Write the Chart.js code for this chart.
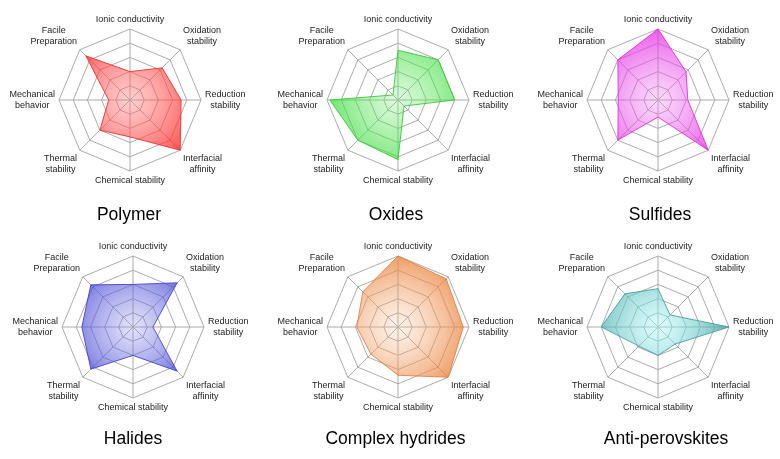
<!DOCTYPE html>
<html><head><meta charset="utf-8">
<script src="https://cdn.jsdelivr.net/npm/chart.js@4/dist/chart.umd.min.js"></script>
<style>
html,body{margin:0;padding:0;background:#fff;overflow:hidden;width:780px;height:459px;position:relative;}
canvas{position:absolute;}
</style></head><body>
<script>
// ---- data ----
const categories = ['Ionic conductivity', ['Oxidation','stability'], ['Reduction','stability'], ['Interfacial','affinity'], 'Chemical stability', ['Thermal','stability'], ['Mechanical','behavior'], ['Facile','Preparation']];
const materials = ['Polymer', 'Oxides', 'Sulfides', 'Halides', 'Complex hydrides', 'Anti-perovskites'];
const polymer         = [2.0, 3.2, 3.6, 5.0, 2.6, 3.0, 1.5, 4.4];
const oxides          = [3.5, 4.0, 4.0, 0.6, 4.2, 4.0, 4.8, 0.5];
const sulfides        = [5.0, 2.8, 2.1, 5.0, 1.2, 4.0, 2.8, 4.0];
const halides         = [3.0, 4.4, 1.4, 4.4, 2.0, 4.2, 3.6, 4.2];
const complexHydrides = [5.0, 4.8, 4.6, 5.0, 3.4, 2.7, 2.9, 3.5];
const antiPerovskites = [2.7, 1.2, 5.0, 1.7, 2.0, 1.9, 4.0, 3.3];
const tickMin = 0, tickMax = 5, tickStep = 1;

const seriesValues = [polymer, oxides, sulfides, halides, complexHydrides, antiPerovskites];

// ---- layout & style ----
const centers = [[130,100],[398,100],[658,100],[133,327],[398,327],[658,327]];
const titleAt = [[129,219.5],[396,219.5],[660,219.5],[133,444],[395.5,444],[666,444]];
const palettes = [
  {inner:'rgba(255,120,120,0.35)', outer:'rgba(255,40,40,0.80)', border:'rgba(240,50,50,0.9)'},
  {inner:'rgba(120,235,120,0.25)', outer:'rgba(60,220,60,0.75)', border:'rgba(60,200,60,0.9)'},
  {inner:'rgba(240,130,240,0.30)', outer:'rgba(230,40,230,0.75)', border:'rgba(220,50,220,0.9)'},
  {inner:'rgba(140,140,235,0.25)', outer:'rgba(60,60,210,0.80)', border:'rgba(70,70,200,0.9)'},
  {inner:'rgba(245,190,150,0.20)', outer:'rgba(235,130,60,0.78)', border:'rgba(225,130,70,0.9)'},
  {inner:'rgba(170,250,250,0.40)', outer:'rgba(60,160,160,0.78)', border:'rgba(70,160,160,0.9)'}
];
const R = 71, W = 260, H = 230, PX = 130, PY = 100;
const FONT = '"Liberation Sans", Arial, sans-serif';

const labelPlugin = {
  id: 'octLabels',
  afterDraw(chart, args, opts) {
    const s = chart.scales.r, ctx = chart.ctx;
    ctx.save();
    ctx.font = '9px ' + FONT;
    ctx.fillStyle = '#222';
    ctx.textAlign = 'center';
    ctx.textBaseline = 'middle';
    const lh = 11;
    chart.data.labels.forEach((lab, i) => {
      const lines = Array.isArray(lab) ? lab : [lab];
      const p = s.getPointPosition(i, s.drawingArea + 4);
      const deg = (s.getIndexAngle(i) * 180 / Math.PI) % 360;
      const w = Math.max(...lines.map(l => ctx.measureText(l).width));
      const h = lines.length * lh;
      let x;
      if (deg < 1 || Math.abs(deg - 180) < 1) x = p.x;
      else if (deg < 180) x = p.x + w / 2;
      else x = p.x - w / 2;
      let top;
      if (Math.abs(deg - 90) < 1 || Math.abs(deg - 270) < 1) top = p.y - h / 2;
      else if (deg > 90 && deg < 270) top = p.y;
      else top = p.y - h;
      lines.forEach((l, k) => ctx.fillText(l, x, top + lh * k + lh / 2));
    });
    ctx.font = '17.5px ' + FONT;
    ctx.fillStyle = '#000';
    ctx.textBaseline = 'alphabetic';
    ctx.fillText(opts.title, opts.tx, opts.ty);
    ctx.restore();
  }
};

function makeGradient(c, pal) {
  const chart = c.chart, s = chart.scales && chart.scales.r;
  if (!s || !chart.chartArea) return pal.outer;
  const g = chart.ctx.createRadialGradient(s.xCenter, s.yCenter, 0, s.xCenter, s.yCenter, s.drawingArea);
  g.addColorStop(0, pal.inner);
  g.addColorStop(1, pal.outer);
  return g;
}

materials.forEach((name, idx) => {
  const [cx, cy] = centers[idx];
  const left = cx - PX, top = cy - PY;
  const cv = document.createElement('canvas');
  cv.width = W; cv.height = H;
  cv.style.left = left + 'px'; cv.style.top = top + 'px';
  cv.style.width = W + 'px'; cv.style.height = H + 'px';
  document.body.appendChild(cv);
  const pal = palettes[idx];
  new Chart(cv, {
    type: 'radar',
    data: {
      labels: categories,
      datasets: [{
        label: name,
        data: seriesValues[idx],
        fill: true,
        backgroundColor: (c) => makeGradient(c, pal),
        borderColor: pal.border,
        borderWidth: 1,
        pointRadius: 0,
        pointHoverRadius: 0,
        clip: 4
      }]
    },
    options: {
      responsive: false,
      animation: false,
      devicePixelRatio: 1,
      layout: { padding: { left: PX - R, right: W - PX - R, top: PY - R, bottom: H - PY - R } },
      elements: { line: { tension: 0 } },
      plugins: {
        legend: { display: false },
        tooltip: { enabled: false },
        octLabels: { title: name, tx: titleAt[idx][0] - left, ty: titleAt[idx][1] - top }
      },
      scales: {
        r: {
          min: tickMin, max: tickMax,
          ticks: { display: false, stepSize: tickStep },
          pointLabels: { display: false },
          grid: { color: '#ababab', lineWidth: 1 },
          angleLines: { color: '#ababab', lineWidth: 1 }
        }
      }
    },
    plugins: [labelPlugin]
  });
});
</script>
</body></html>
